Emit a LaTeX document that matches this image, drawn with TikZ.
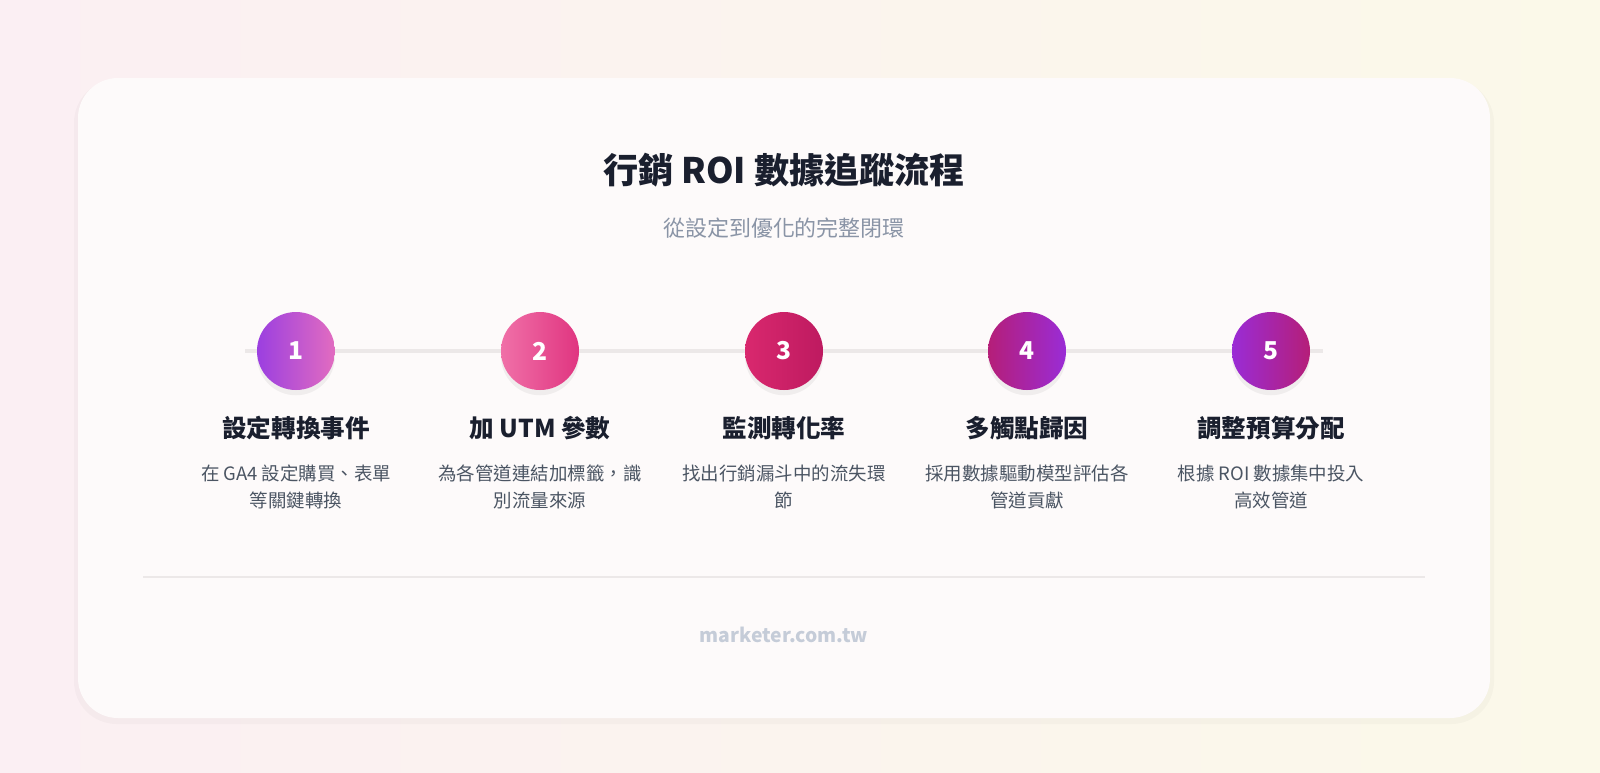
\documentclass[tikz,border=0pt]{standalone}
\usepackage{fontspec}
\setmainfont{Noto Sans CJK TC}
\usetikzlibrary{shadows}
\definecolor{bgpink}{HTML}{FBEFF3}
\definecolor{bgyel}{HTML}{FBF9E9}
\definecolor{cardfill}{HTML}{FDFAFA}
\definecolor{titlec}{HTML}{1A1F2E}
\definecolor{subc}{HTML}{8A94A6}
\definecolor{descc}{HTML}{4B5563}
\definecolor{linec}{HTML}{ECE8E8}
\definecolor{footc}{HTML}{C5CCD8}
\definecolor{ballA}{HTML}{9B3FE0}
\definecolor{ballB}{HTML}{E26CC0}
\definecolor{ballC}{HTML}{F070A8}
\definecolor{ballD}{HTML}{E03580}
\definecolor{ballE}{HTML}{D9286E}
\definecolor{ballF}{HTML}{BE1A60}
\definecolor{ballG}{HTML}{B51E78}
\definecolor{ballH}{HTML}{9A2CD6}
\begin{document}
\begin{tikzpicture}[x=0.02cm,y=-0.02cm,
% common options for the step circles:
stepball/.style = {circle, minimum size=1.56cm, inner sep=0, text=white,
            font=\fontsize{14}{14}\selectfont\bfseries, shading angle=-45,
            drop shadow={opacity=0.10, shadow xshift=0pt, shadow yshift=-3pt}},
% common options for the texts:
steptitle/.style = {font=\fontsize{14}{16}\selectfont\bfseries, text=titlec},
stepdesc/.style = {font=\fontsize{10.5}{15.5}\selectfont, text=descc, align=center}]
\useasboundingbox (0,0) rectangle (1600,772);
\begin{scope}
\clip (0,0) rectangle (1600,772);
\shade[left color=bgpink, right color=bgyel] (0,0) rectangle (1600,772);
\end{scope}
\fill[black, opacity=0.025, rounded corners=0.85cm] (74,80) rectangle (1494,724);
\fill[cardfill, rounded corners=0.8cm] (78,78) rectangle (1490,718);
\node[font=\fontsize{20}{20}\selectfont\bfseries, text=titlec] (title) at (784,170) {行銷 ROI 數據追蹤流程};
\node[font=\fontsize{12.5}{12.5}\selectfont, text=subc] (subtitle) at (784,228) {從設定到優化的完整閉環};
\coordinate (lineL) at (245,351);
\coordinate (lineR) at (1323,351);
\draw[linec, line width=2.5pt] (lineL) -- (lineR);
\node[stepball, left color=ballA, right color=ballB] (s1) at (296,351) {1};
\node[stepball, left color=ballC, right color=ballD] (s2) at (540,351) {2};
\node[stepball, left color=ballE, right color=ballF] (s3) at (784,351) {3};
\node[stepball, left color=ballG, right color=ballH] (s4) at (1027,351) {4};
\node[stepball, left color=ballH, right color=ballG] (s5) at (1271,351) {5};
\node[steptitle] (t1) at (296,428) {設定轉換事件};
\node[steptitle] (t2) at (540,428) {加 UTM 參數};
\node[steptitle] (t3) at (784,428) {監測轉化率};
\node[steptitle] (t4) at (1027,428) {多觸點歸因};
\node[steptitle] (t5) at (1271,428) {調整預算分配};
\node[stepdesc] (d1) at (296,487) {在 GA4 設定購買、表單\\等關鍵轉換};
\node[stepdesc] (d2) at (540,487) {為各管道連結加標籤，識\\別流量來源};
\node[stepdesc] (d3) at (784,487) {找出行銷漏斗中的流失環\\節};
\node[stepdesc] (d4) at (1027,487) {採用數據驅動模型評估各\\管道貢獻};
\node[stepdesc] (d5) at (1271,487) {根據 ROI 數據集中投入\\高效管道};
\coordinate (sepL) at (143,577);
\coordinate (sepR) at (1425,577);
\draw[linec, line width=0.8pt] (sepL) -- (sepR);
\node[font=\fontsize{11}{11}\selectfont\bfseries, text=footc] (foot) at (784,635) {marketer.com.tw};
\end{tikzpicture}
\end{document}
